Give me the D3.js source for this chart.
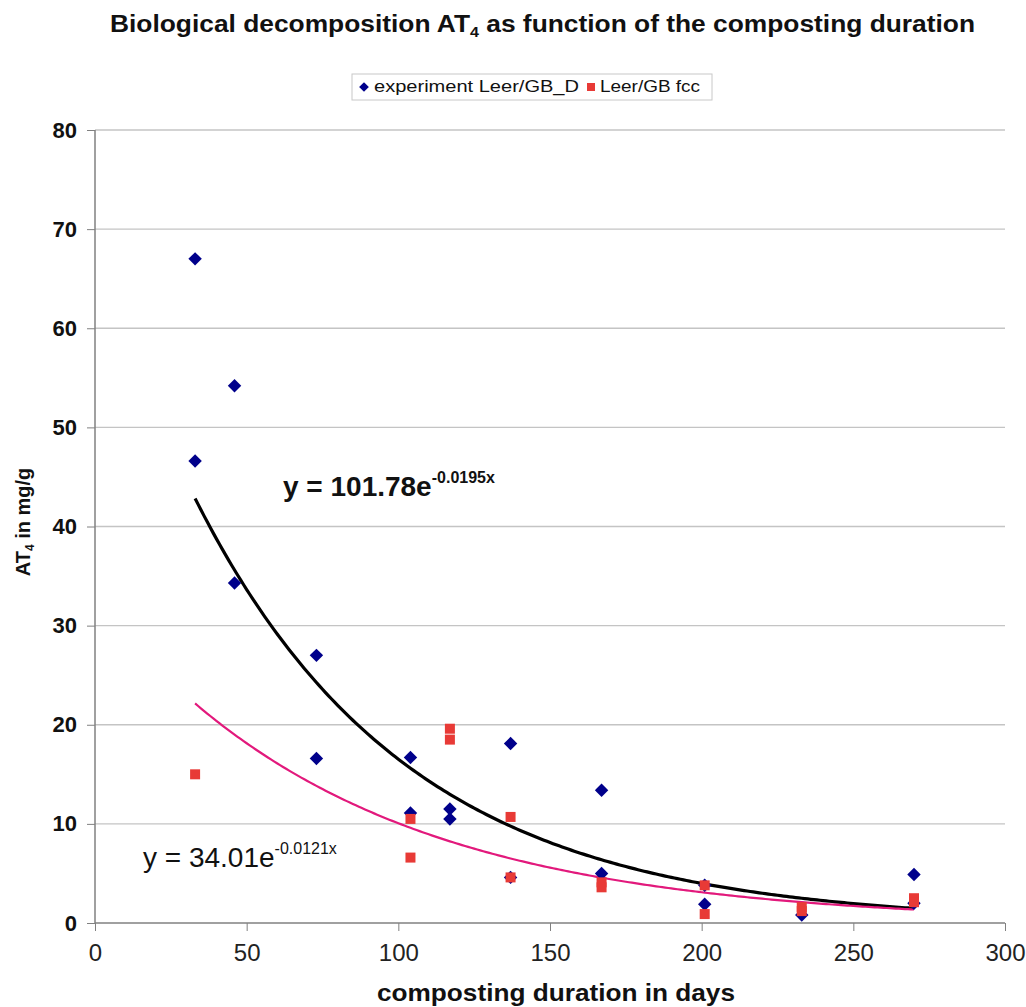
<!DOCTYPE html>
<html>
<head>
<meta charset="utf-8">
<script src="https://cdn.jsdelivr.net/npm/d3@7"></script>
<style>
  body { margin: 0; background: #fff; }
  text { font-family: Arial, "Liberation Sans", sans-serif; }
</style>
</head>
<body>
<script>
// data
const daysD = [33, 33, 46, 46, 73, 73, 104, 104, 117, 117, 137, 137, 167, 167, 201, 201, 233, 270, 270]
const experimentD = [67.0, 46.6, 54.2, 34.3, 27.0, 16.6, 16.7, 11.1, 11.5, 10.5, 18.1, 4.6, 13.4, 5.0, 3.8, 1.9, 0.8, 4.9, 2.0]
const daysFcc = [33, 104, 104, 117, 117, 137, 137, 167, 167, 201, 201, 233, 233, 270, 270]
const fcc = [15.0, 10.5, 6.6, 19.6, 18.5, 10.7, 4.6, 4.1, 3.6, 3.8, 0.9, 1.6, 1.2, 2.5, 2.1]
const xTicks = [0, 50, 100, 150, 200, 250, 300]
const yTicks = [0, 10, 20, 30, 40, 50, 60, 70, 80]
const eqD = { a: "101.78", b: "-0.0195x" }
const eqFcc = { a: "34.01", b: "-0.0121x" }

const width = 1026, height = 1007
const margin = { top: 130, right: 21, bottom: 84, left: 95 }

const svg = d3.select("body").append("svg")
    .attr("width", width)
    .attr("height", height)

const x = d3.scaleLinear().domain([0, 300]).range([margin.left, width - margin.right])
const y = d3.scaleLinear().domain([0, 80]).range([height - margin.bottom, margin.top])

// exponential trendline, least squares on ln(y)
function expFit(xs, ys) {
    const ls = ys.map(Math.log)
    const mx = d3.mean(xs), ml = d3.mean(ls)
    let sxy = 0, sxx = 0
    xs.forEach((v, i) => { sxy += (v - mx) * (ls[i] - ml); sxx += (v - mx) * (v - mx) })
    const b = sxy / sxx
    return { a: Math.exp(ml - b * mx), b: b, lo: d3.min(xs), hi: d3.max(xs) }
}

// grid
svg.append("g").selectAll("line")
    .data(yTicks.filter(d => d > 0))
    .join("line")
    .attr("x1", x(0)).attr("x2", x(300))
    .attr("y1", d => y(d)).attr("y2", d => y(d))
    .attr("stroke", "#c4c4c4").attr("stroke-width", 1.3)

// axes
const yAxis = svg.append("g")
    .attr("transform", `translate(${x(0)},0)`)
    .call(d3.axisLeft(y).tickValues(yTicks).tickSize(8).tickPadding(10))
yAxis.selectAll("text").attr("font-size", 22).attr("font-weight", "bold").attr("fill", "#111")
    .attr("font-family", null)

const xAxis = svg.append("g")
    .attr("transform", `translate(0,${y(0)})`)
    .call(d3.axisBottom(x).tickValues(xTicks).tickSize(8).tickPadding(13))
xAxis.selectAll("text").attr("font-size", 24).attr("fill", "#222")
    .attr("font-family", null)

svg.selectAll(".domain").attr("stroke", "#808080").attr("stroke-width", 1.5)
svg.selectAll(".tick line").attr("stroke", "#808080").attr("stroke-width", 1)
xAxis.select(".domain").attr("d", `M${x(0)},0H${x(300)}`)
yAxis.select(".domain").attr("d", `M0,${y(80)}V${y(0)}`)

// trendlines
const line = d3.line().x(d => x(d[0])).y(d => y(d[1]))
function trend(fit, color, w) {
    const pts = d3.range(fit.lo, fit.hi + 0.01, 1).map(t => [t, fit.a * Math.exp(fit.b * t)])
    svg.append("path").datum(pts)
        .attr("d", line).attr("fill", "none")
        .attr("stroke", color).attr("stroke-width", w)
}
trend(expFit(daysD, experimentD), "#000", 3.2)
trend(expFit(daysFcc, fcc), "#e2197c", 2.2)

// points
const diamond = d3.symbol().type(d3.symbolDiamond2).size(115)
svg.append("g").selectAll("path")
    .data(daysD.map((d, i) => [d, experimentD[i]]))
    .join("path")
    .attr("d", diamond)
    .attr("transform", d => `translate(${x(d[0])},${y(d[1])})`)
    .attr("fill", "#00008b")

svg.append("g").selectAll("rect")
    .data(daysFcc.map((d, i) => [d, fcc[i]]))
    .join("rect")
    .attr("x", d => x(d[0]) - 5).attr("y", d => y(d[1]) - 5)
    .attr("width", 10).attr("height", 10)
    .attr("fill", "#e83a36")

// equations
function equation(eq, px, py, bold, size) {
    const t = svg.append("text").attr("x", px).attr("y", py)
        .attr("font-size", size).attr("fill", "#111")
        .attr("font-weight", bold ? "bold" : "normal")
    t.append("tspan").text(`y = ${eq.a}e`)
    t.append("tspan").attr("dy", -13).attr("font-size", 16).text(eq.b)
}
equation(eqD, 283, 496, true, 28)
equation(eqFcc, 143, 867, false, 28)

// title
const title = svg.append("text")
    .attr("x", 110).attr("y", 32)
    .attr("textLength", 865).attr("lengthAdjust", "spacingAndGlyphs")
    .attr("font-size", 23).attr("font-weight", "bold").attr("fill", "#111")
title.append("tspan").text("Biological decomposition AT")
title.append("tspan").attr("dy", 5).attr("font-size", 14).text("4")
title.append("tspan").attr("dy", -5).text(" as function of the composting duration")

// legend
const lg = svg.append("g").attr("transform", "translate(352,74)")
lg.append("rect").attr("width", 360).attr("height", 26)
    .attr("fill", "#fff").attr("stroke", "#c8c8c8")
lg.append("path").attr("d", d3.symbol().type(d3.symbolDiamond2).size(60))
    .attr("transform", "translate(12,13)").attr("fill", "#00008b")
lg.append("text").attr("x", 22).attr("y", 18)
    .attr("textLength", 205).attr("lengthAdjust", "spacingAndGlyphs")
    .attr("font-size", 16).attr("fill", "#111").text("experiment Leer/GB_D")
lg.append("rect").attr("x", 235).attr("y", 9).attr("width", 8).attr("height", 8).attr("fill", "#e83a36")
lg.append("text").attr("x", 248).attr("y", 18)
    .attr("textLength", 100).attr("lengthAdjust", "spacingAndGlyphs")
    .attr("font-size", 16).attr("fill", "#111").text("Leer/GB fcc")

// axis titles
svg.append("text")
    .attr("x", 377).attr("y", 1001)
    .attr("textLength", 358).attr("lengthAdjust", "spacingAndGlyphs")
    .attr("font-size", 24).attr("font-weight", "bold").attr("fill", "#111")
    .text("composting duration in days")

const yt = svg.append("text")
    .attr("transform", "translate(30,522) rotate(-90)")
    .attr("text-anchor", "middle")
    .attr("font-size", 20).attr("font-weight", "bold").attr("fill", "#111")
yt.append("tspan").text("AT")
yt.append("tspan").attr("dy", 4).attr("font-size", 12).text("4")
yt.append("tspan").attr("dy", -4).text(" in mg/g")
</script>
</body>
</html>
